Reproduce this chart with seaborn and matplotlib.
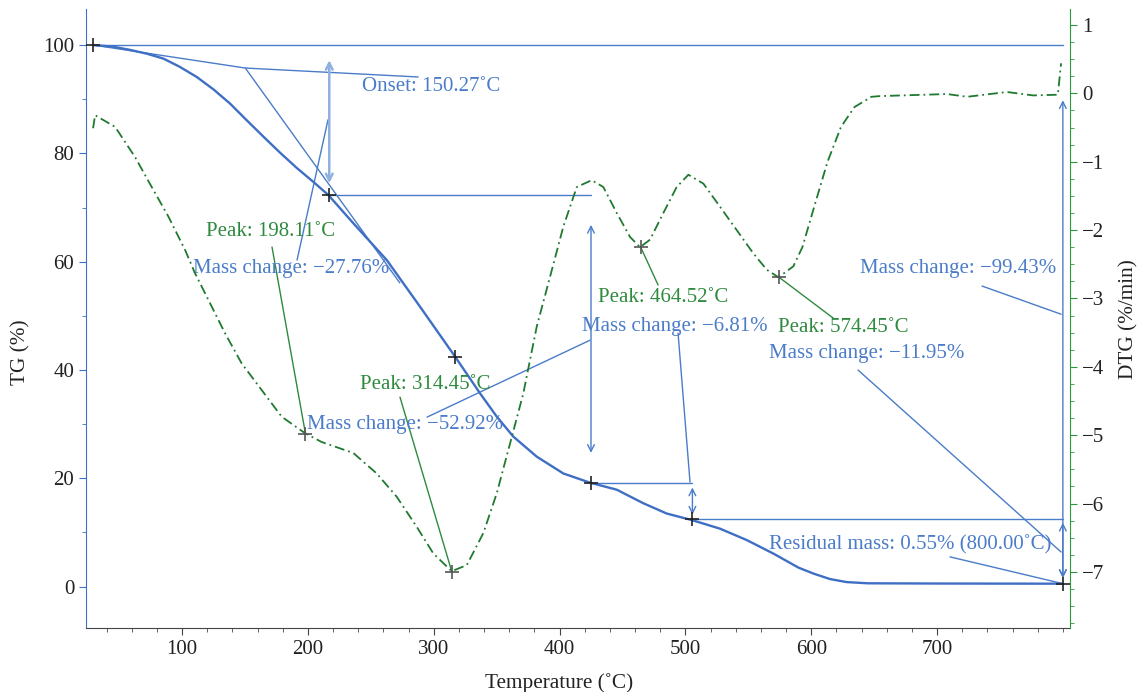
import matplotlib
matplotlib.use("Agg")
import matplotlib.pyplot as plt
from matplotlib.ticker import MultipleLocator
import seaborn as sns

# TG curve (temperature in C, mass in %)
tg_temp = [29.3, 45, 58.7, 72, 85.1, 98, 111.7, 125, 138.1, 151, 164.6, 178, 191.2,
           204, 216.3, 236.1, 262.7, 289.1, 316.9, 336.8, 350.1, 363.3, 381.9, 403.0,
           424.2, 445.5, 466.6, 485.2, 505.1, 527.6, 548.8, 570, 590, 602, 615, 628,
           645, 700, 760, 800]
tg_mass = [100, 99.7, 99.1, 98.4, 97.5, 96.0, 94.1, 91.8, 89.2, 86.2, 83.1, 80.1,
           77.3, 74.8, 72.3, 67.1, 60.3, 51.7, 42.5, 35.7, 31.4, 27.7, 24.0, 20.9,
           19.2, 17.9, 15.4, 13.5, 12.3, 10.7, 8.6, 6.1, 3.5, 2.4, 1.4, 0.85, 0.62,
           0.58, 0.56, 0.55]

# DTG curve (%/min)
dtg_temp = [29.3, 30.9, 46.8, 62.6, 75.9, 89.1, 102.4, 110.3, 120.9, 134.2, 147.4,
            163.3, 179.2, 197.7, 211, 236.1, 254.7, 270.6, 286.5, 299.7, 314.3,
            326.3, 339.5, 350.1, 360.7, 371.2, 381.9, 392.5, 403.0, 413.7, 425.6,
            434.8, 445.5, 456.0, 464.0, 471.9, 482.5, 493.1, 502.4, 514.3, 527.6,
            540.8, 554.0, 564.7, 574.0, 585.8, 593, 603, 613, 623.7, 634.4, 647.9,
            654.7, 681, 708, 723.9, 755.6, 776.3, 796, 798.6]
dtg_rate = [-0.51, -0.32, -0.49, -0.93, -1.37, -1.80, -2.29, -2.63, -3.02, -3.51,
            -3.95, -4.34, -4.73, -4.97, -5.10, -5.26, -5.56, -5.90, -6.34, -6.73,
            -6.99, -6.90, -6.43, -5.85, -5.12, -4.39, -3.41, -2.68, -1.95, -1.37,
            -1.27, -1.37, -1.75, -2.10, -2.25, -2.14, -1.75, -1.37, -1.19, -1.32,
            -1.66, -2.00, -2.34, -2.58, -2.69, -2.53, -2.25, -1.62, -1.0, -0.49,
            -0.20, -0.05, -0.04, -0.025, -0.01, -0.05, 0.02, -0.03, -0.02, 0.44]

# evaluated points
onset_T, onset_tg = 150.27, 95.75
step_T = [29.3, 217.0, 316.7, 425.0, 505.6, 800.0]
step_tg = [100, 72.24, 42.4, 19.2, 12.4, 0.55]
peak_T = [198.11, 314.45, 464.52, 574.45]
peak_dtg = [-4.98, -7.0, -2.25, -2.69]
mass_changes = ["−27.76%", "−52.92%", "−6.81%", "−11.95%", "−99.43%"]

BLUE = "#3f6fc4"
LBLUE = "#4a7cc9"
ABLUE = "#8fb0e0"
GREEN = "#2e8a3e"
DGREEN = "#1f7a2f"
FS = 15

sns.set_style("ticks")
plt.rcParams["font.family"] = ["Liberation Serif", "DejaVu Serif"]

fig = plt.figure(figsize=(11.41, 6.92), dpi=100)
ax = fig.add_axes([0.0754, 0.0925, 0.8624, 0.8941])
ax2 = ax.twinx()

sns.lineplot(x=tg_temp, y=tg_mass, ax=ax, color=BLUE, lw=1.7, zorder=3)
sns.lineplot(x=dtg_temp, y=dtg_rate, ax=ax2, color=DGREEN, lw=1.3,
             linestyle=(0, (5.5, 2.2, 1.0, 2.2)))

ax.set_xlim(23.7, 805.7)
ax.set_ylim(-7.63, 106.6)
ax2.set_ylim(-7.82, 1.23)

kw = dict(color=LBLUE, lw=1.0, zorder=2)
# baseline and onset construction
ax.plot([step_T[0], step_T[-1]], [100, 100], **kw)
ax.plot([step_T[0], onset_T, 287.6], [100, onset_tg, 94.1], **kw)
ax.plot([onset_T, 273.0], [onset_tg, 56.1], **kw)
ax.text(243.0, 92.25, "Onset: 150.27˚C", color=LBLUE, fontsize=FS, va="center")

# step levels
ax.plot([step_T[1], step_T[3]], [step_tg[1], step_tg[1]], **kw)
ax.plot([step_T[3], step_T[4]], [step_tg[3], step_tg[3]], **kw)
ax.plot([step_T[4], step_T[5]], [step_tg[4], step_tg[4]], **kw)

def darrow(x, y0, y1, color=LBLUE, lw=1.0):
    ax.annotate("", xy=(x, y1), xytext=(x, y0),
                arrowprops=dict(arrowstyle="<->", color=color, lw=lw,
                                shrinkA=0, shrinkB=0, mutation_scale=12))

darrow(step_T[1], 74.5, 97.2, color=ABLUE, lw=1.8)
darrow(step_T[3], 24.7, 66.8)
darrow(step_T[4], 13.3, 18.3)
darrow(step_T[5], 1.6, 11.8)
darrow(step_T[5], 1.6, 89.8)

# mass change labels with leaders
ax.text(108.7, 58.8, "Mass change: " + mass_changes[0], color=LBLUE, fontsize=FS, va="center")
ax.plot([191.4, 216.0], [60.3, 86.2], **kw)
ax.text(199.3, 30.0, "Mass change: " + mass_changes[1], color=LBLUE, fontsize=FS, va="center")
ax.plot([294.7, 424.2], [31.3, 45.5], **kw)
ax.text(417.9, 48.1, "Mass change: " + mass_changes[2], color=LBLUE, fontsize=FS, va="center")
ax.plot([494.2, 503.7], [46.8, 19.3], **kw)
ax.text(566.5, 43.0, "Mass change: " + mass_changes[3], color=LBLUE, fontsize=FS, va="center")
ax.plot([637.2, 798.6], [40.0, 6.4], **kw)
ax.text(795.0, 58.8, "Mass change: " + mass_changes[4], color=LBLUE, fontsize=FS,
        va="center", ha="right")
ax.plot([735.8, 798.6], [55.5, 50.3], **kw)
ax.text(566.5, 7.7, "Residual mass: 0.55% (800.00˚C)", color=LBLUE, fontsize=FS, va="center")
ax.plot([710.3, step_T[5]], [5.5, step_tg[5]], **kw)

# DTG peak labels, leaders drawn in TG coords
peak_text = [(119.1, 65.5), (241.5, 37.4), (430.6, 53.3), (573.7, 47.8)]
peak_lead = [(171.5, 62.7), (273.2, 35.0), (478.3, 55.7), (617.4, 49.6)]
for (tx, ty), (lx, ly), pT, pv in zip(peak_text, peak_lead, peak_T, peak_dtg):
    ax.text(tx, ty, f"Peak: {pT:.2f}˚C", color=GREEN, fontsize=FS, va="center")
    # convert peak point from DTG axis to TG axis
    disp = ax2.transData.transform((pT, pv))
    px, py = ax.transData.inverted().transform(disp)
    ax.plot([lx, px], [ly, py], color=GREEN, lw=1.0, zorder=2)

ax.scatter(step_T, step_tg, marker="+", s=110, color="#222222", lw=1.2, zorder=5)
ax2.scatter(peak_T, peak_dtg, marker="+", s=110, color="#555555", lw=1.2, zorder=5)

# axes styling
ax.set_xticks([100, 200, 300, 400, 500, 600, 700])
ax.xaxis.set_minor_locator(MultipleLocator(20))
ax.set_yticks([0, 20, 40, 60, 80, 100])
ax.yaxis.set_minor_locator(MultipleLocator(10))
ax2.set_yticks([-7, -6, -5, -4, -3, -2, -1, 0, 1])
ax2.yaxis.set_minor_locator(MultipleLocator(0.25))

for a in (ax, ax2):
    a.spines["top"].set_visible(False)
ax.spines["right"].set_visible(False)
ax.spines["left"].set_color(BLUE)
ax.spines["bottom"].set_color("#444444")
ax2.spines["left"].set_visible(False)
ax2.spines["bottom"].set_visible(False)
ax2.spines["right"].set_color("#2a9a3a")

ax.tick_params(axis="y", which="both", colors=BLUE, labelcolor="#222222", labelsize=15)
ax.tick_params(axis="x", which="both", colors="#444444", labelcolor="#222222", labelsize=15)
ax2.tick_params(axis="y", which="both", colors="#2a9a3a", labelcolor="#222222", labelsize=15)
for a in (ax, ax2):
    a.tick_params(which="major", length=5)
    a.tick_params(which="minor", length=3)
ax.set_yticklabels(["0", "20", "40", "60", "80", "100"])
ax2.set_yticklabels(["−7", "−6", "−5", "−4", "−3", "−2", "−1", "0", "1"])

ax.set_xlabel("Temperature (˚C)", fontsize=15.3, color="#222222", labelpad=10)
ax.xaxis.label.set_x(0.4807)
ax.set_ylabel("TG (%)", fontsize=15.3, color="#222222", labelpad=9)
ax.yaxis.label.set_y(0.446)
ax2.set_ylabel("DTG (%/min)", fontsize=15.3, color="#222222", labelpad=11)

fig.savefig("out.png", dpi=100)
